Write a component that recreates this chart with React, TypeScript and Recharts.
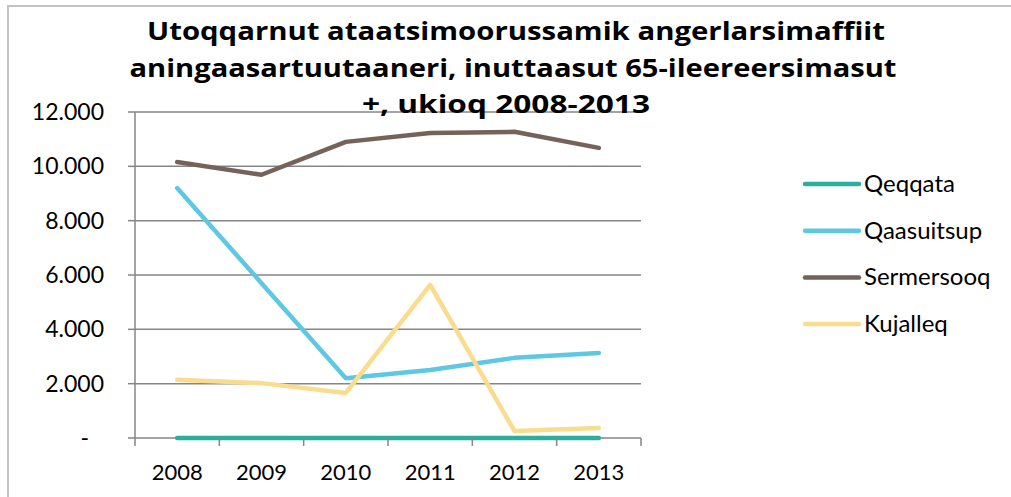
import React from 'react';
import { LineChart, Line, XAxis, YAxis, CartesianGrid } from 'recharts';

const years = [2008, 2009, 2010, 2011, 2012, 2013];
const qeqqata = [0, 0, 0, 0, 0, 0];
const qaasuitsup = [9200, 5700, 2200, 2500, 2950, 3130];
const sermersooq = [10160, 9690, 10900, 11230, 11270, 10680];
const kujalleq = [2140, 2020, 1660, 5640, 260, 370];

const yTicks = [0, 2000, 4000, 6000, 8000, 10000, 12000];
const titleLines = [
  'Utoqqarnut ataatsimoorussamik angerlarsimaffiit',
  'aningaasartuutaaneri, inuttaasut 65-ileereersimasut',
  '+, ukioq 2008-2013',
];
const titleX = [516, 513, 506];
const titleLen = [738, 767, 288];

const series = [
  { key: 'Qeqqata', values: qeqqata, color: '#2BAE9C' },
  { key: 'Qaasuitsup', values: qaasuitsup, color: '#5EC8E2' },
  { key: 'Sermersooq', values: sermersooq, color: '#75635B' },
  { key: 'Kujalleq', values: kujalleq, color: '#FADC8E' },
];

const data = years.map((y, i) => {
  const row: Record<string, number> = { year: y };
  series.forEach((s) => {
    row[s.key] = s.values[i];
  });
  return row;
});

// category boundaries (tick marks) and category centres (labels)
const xTicks = [2007.5, ...years.flatMap((y) => [y, y + 0.5])];
const FONT = 'Lato, "Open Sans", sans-serif';
const TITLE_FONT = '"Open Sans", Lato, sans-serif';

const fmtY = (v: number) => (v === 0 ? '-' : v.toLocaleString('de-DE'));

const YTick = (props: any) => {
  const { x, y, payload } = props;
  const v = payload.value as number;
  const dx = v === 0 ? -15 : 0;
  return (
    <text x={x + dx} y={y} dy={8} textAnchor="end" fontSize={23} fontFamily={FONT} fill="#000">
      {fmtY(v)}
    </text>
  );
};

const XTick = (props: any) => {
  const { x, y, payload } = props;
  const v = payload.value as number;
  if (Number.isInteger(v)) {
    return (
      <text x={x} y={y + 42} textAnchor="middle" fontSize={22} fontFamily={FONT} fill="#000">
        {String(v)}
      </text>
    );
  }
  return <line x1={x} x2={x} y1={y} y2={y + 8} stroke="#868686" strokeWidth={1.5} />;
};

export default function App() {
  return (
    <div style={{ position: 'absolute', left: 0, top: 0, width: 1011, height: 497, background: '#fff', overflow: 'hidden' }}>
      <div
        style={{
          position: 'absolute',
          left: 7,
          top: 5,
          width: 1011,
          height: 497,
          borderLeft: '2px solid #C3C3C3',
          borderTop: '2px solid #C3C3C3',
        }}
      />
      <LineChart
        width={1011}
        height={497}
        data={data}
        margin={{ top: 112, right: 370, bottom: 0, left: 0 }}
      >
        <CartesianGrid vertical={false} stroke="#868686" strokeWidth={1.5} />
        <XAxis
          dataKey="year"
          type="number"
          domain={[2007.5, 2013.5]}
          ticks={xTicks}
          interval={0}
          tick={<XTick />}
          tickLine={false}
          axisLine={false}
          tickSize={0}
          tickMargin={0}
          height={59}
          allowDataOverflow
        />
        <YAxis
          width={135}
          domain={[0, 12000]}
          ticks={yTicks}
          tick={<YTick />}
          tickSize={7}
          stroke="#868686"
          strokeWidth={1.5}
          tickMargin={24}
        />
        {series.map((s) => (
          <Line
            key={s.key}
            dataKey={s.key}
            stroke={s.color}
            strokeWidth={4.5}
            strokeLinecap="round"
            strokeLinejoin="round"
            dot={false}
            activeDot={false}
            isAnimationActive={false}
          />
        ))}
      </LineChart>
      <svg width={1011} height={497} style={{ position: 'absolute', left: 0, top: 0, pointerEvents: 'none' }}>
        {titleLines.map((t, i) => (
          <text
            key={i}
            x={titleX[i]}
            y={40 + i * 36.5}
            textAnchor="middle"
            fontFamily={TITLE_FONT}
            fontWeight={700}
            fontSize={25}
            textLength={titleLen[i]}
            lengthAdjust="spacingAndGlyphs"
            fill="#000"
          >
            {t}
          </text>
        ))}
        {series.map((s, i) => {
          const cy = 184 + i * 46.7;
          return (
            <g key={s.key}>
              <line x1={805} x2={859} y1={cy} y2={cy} stroke={s.color} strokeWidth={4.5} strokeLinecap="round" />
              <text x={864} y={cy + 8} fontFamily={FONT} fontSize={24} fill="#000">
                {s.key}
              </text>
            </g>
          );
        })}
      </svg>
    </div>
  );
}
